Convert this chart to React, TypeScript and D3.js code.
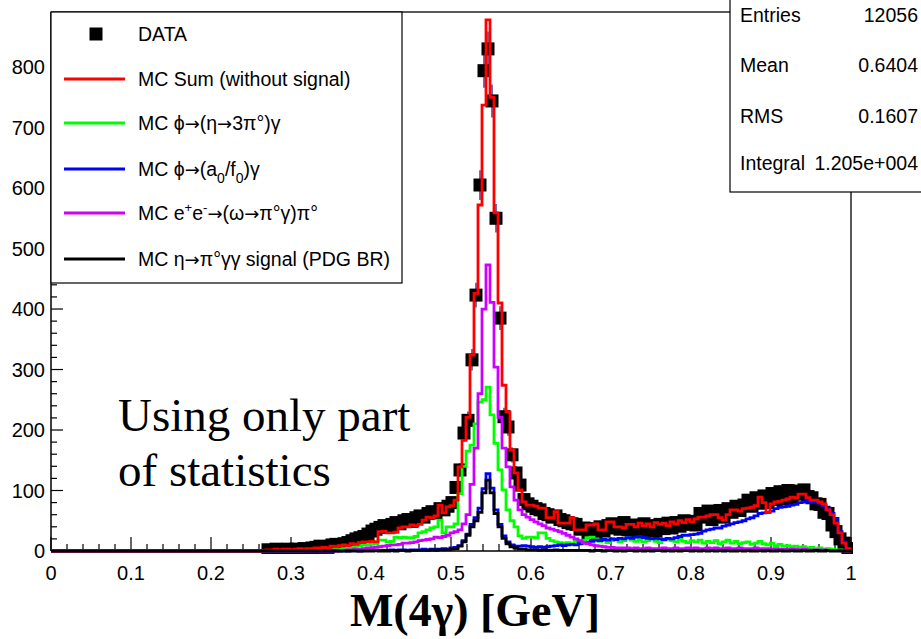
import React from 'react';
import * as d3 from 'd3';

// Histogram binning (GeV)
const BIN_START = 0.26875;
const BIN_WIDTH = 0.005;

// DATA counts per bin
const dataCounts = [
  2, 1, 3, 2, 2, 3, 1, 3, 2, 4,
  3, 5, 6, 8, 7, 6, 10, 11, 9, 12,
  14, 17, 20, 22, 24, 28, 33, 36, 39, 42,
  40, 44, 47, 45, 50, 52, 49, 55, 58, 56,
  62, 65, 63, 70, 68, 74, 80, 105, 134, 195,
  216, 316, 423, 605, 794, 830, 744, 550, 385, 222,
  205, 159, 129, 109, 85, 78, 74, 70, 68, 62,
  60, 56, 58, 52, 50, 47, 45, 44, 36, 38,
  30, 37, 29, 40, 33, 42, 45, 38, 36, 47,
  35, 43, 33, 40, 45, 34, 42, 33, 44, 37,
  46, 38, 47, 41, 50, 44, 49, 43, 62, 56,
  66, 52, 60, 67, 56, 70, 64, 74, 67, 76,
  84, 74, 88, 79, 91, 80, 95, 85, 98, 86,
  100, 88, 99, 94, 101, 90, 88, 78, 77, 64,
  62, 43, 32, 20, 13, 4,
];

// MC Sum (without signal)
const mcSum = [
  2, 2, 3, 2, 3, 3, 2, 3, 4, 3,
  4, 4, 5, 5, 6, 5, 8, 7, 9, 10,
  9, 12, 11, 14, 15, 15, 16, 15, 32, 33,
  30, 30, 31, 38, 40, 40, 43, 42, 44, 51,
  56, 55, 58, 76, 63, 73, 75, 84, 139, 183,
  221, 324, 426, 572, 737, 878, 750, 559, 410, 274,
  230, 167, 129, 101, 81, 76, 76, 74, 71, 71,
  55, 55, 65, 46, 46, 46, 55, 35, 35, 35,
  43, 43, 45, 35, 35, 48, 48, 40, 40, 38,
  44, 44, 40, 46, 42, 45, 40, 47, 44, 46,
  42, 48, 45, 50, 47, 52, 48, 53, 56, 56,
  58, 60, 60, 55, 51, 60, 68, 68, 66, 70,
  71, 72, 75, 89, 80, 64, 78, 81, 82, 84,
  86, 89, 88, 94, 94, 88, 84, 84, 81, 78,
  68, 60, 46, 30, 13, 4,
];

// MC phi -> (eta -> 3pi0) gamma
const mcEta3pi = [
  0, 0, 0, 0, 0, 0, 0, 0, 0, 1,
  1, 1, 1, 2, 2, 3, 2, 3, 3, 4,
  5, 6, 8, 9, 10, 10, 11, 12, 18, 18,
  15, 16, 23, 22, 23, 22, 22, 24, 30, 32,
  35, 38, 40, 51, 30, 40, 40, 45, 95, 140,
  165, 175, 210, 246, 250, 271, 225, 178, 134, 101,
  68, 50, 40, 25, 21, 23, 23, 22, 30, 30,
  21, 17, 15, 14, 13, 14, 12, 16, 15, 18,
  22, 23, 20, 16, 18, 14, 17, 20, 15, 17,
  22, 18, 16, 19, 15, 17, 21, 16, 14, 18,
  20, 17, 15, 19, 16, 14, 17, 15, 18, 13,
  16, 14, 17, 12, 15, 18, 13, 16, 12, 14,
  15, 11, 13, 16, 12, 10, 13, 9, 11, 8,
  9, 7, 8, 6, 7, 5, 6, 4, 5, 3,
  4, 3, 2, 2, 1, 0,
];

// MC phi -> (a0/f0) gamma
const mcA0f0 = [
  0, 0, 0, 0, 0, 0, 0, 0, 0, 0,
  0, 0, 0, 0, 1, 0, 0, 1, 0, 1,
  0, 1, 1, 0, 1, 1, 1, 1, 1, 1,
  1, 2, 1, 2, 2, 1, 2, 2, 2, 3,
  2, 3, 3, 3, 4, 3, 5, 6, 9, 17,
  28, 44, 55, 71, 103, 128, 104, 68, 44, 25,
  15, 10, 8, 8, 9, 8, 7, 6, 7, 6,
  7, 8, 9, 10, 9, 10, 11, 10, 12, 13,
  14, 16, 18, 17, 19, 18, 20, 19, 21, 20,
  22, 21, 23, 24, 22, 21, 20, 21, 20, 19,
  21, 20, 22, 24, 26, 26, 27, 28, 29, 33,
  35, 36, 38, 38, 41, 43, 45, 47, 48, 50,
  53, 55, 58, 62, 63, 64, 66, 70, 72, 73,
  74, 76, 77, 80, 81, 82, 80, 81, 79, 75,
  71, 62, 54, 32, 15, 4,
];

// MC e+e- -> (omega -> pi0 gamma) pi0
const mcOmegaPi = [
  0, 0, 0, 0, 0, 0, 0, 0, 0, 0,
  0, 0, 0, 0, 0, 0, 0, 0, 1, 1,
  2, 2, 3, 3, 4, 5, 5, 6, 7, 8,
  9, 10, 10, 11, 13, 13, 14, 15, 17, 18,
  19, 20, 23, 22, 24, 26, 30, 32, 35, 45,
  60, 110, 170, 260, 400, 473, 411, 304, 221, 170,
  139, 106, 84, 68, 60, 56, 52, 48, 45, 42,
  38, 36, 34, 32, 29, 26, 23, 20, 17, 14,
  12, 10, 9, 8, 7, 6, 6, 5, 5, 5,
  5, 4, 5, 4, 4, 5, 4, 4, 4, 5,
  4, 4, 5, 4, 4, 5, 4, 5, 4, 4,
  5, 4, 5, 4, 4, 5, 4, 4, 5, 4,
  4, 4, 5, 4, 4, 4, 3, 4, 3, 3,
  3, 3, 3, 2, 3, 2, 2, 2, 2, 2,
  1, 1, 1, 1, 0, 0,
];

// MC eta -> pi0 gamma gamma signal (PDG BR)
const mcSignal = [
  0, 0, 0, 0, 0, 0, 0, 0, 0, 0,
  0, 0, 0, 0, 0, 0, 0, 0, 0, 0,
  0, 0, 0, 0, 0, 0, 0, 1, 0, 0,
  0, 1, 0, 1, 1, 0, 1, 1, 1, 1,
  1, 2, 1, 2, 2, 2, 3, 4, 8, 15,
  26, 40, 50, 64, 96, 117, 96, 62, 40, 21,
  12, 7, 5, 3, 3, 2, 2, 2, 1, 2,
  1, 1, 2, 1, 1, 1, 1, 1, 1, 1,
  1, 0, 1, 1, 0, 1, 1, 0, 1, 0,
  1, 1, 0, 1, 0, 1, 0, 1, 1, 0,
  1, 0, 1, 0, 1, 1, 0, 1, 0, 1,
  0, 1, 0, 1, 0, 1, 0, 0, 1, 0,
  1, 0, 0, 1, 0, 1, 0, 0, 1, 0,
  0, 1, 0, 0, 1, 0, 0, 1, 0, 0,
  1, 0, 0, 0, 0, 0,
];

const xTicks = [0, 0.1, 0.2, 0.3, 0.4, 0.5, 0.6, 0.7, 0.8, 0.9, 1];
const xTickLabels = ['0', '0.1', '0.2', '0.3', '0.4', '0.5', '0.6', '0.7', '0.8', '0.9', '1'];
const yTicks = [0, 100, 200, 300, 400, 500, 600, 700, 800];
const yTickLabels = ['0', '100', '200', '300', '400', '500', '600', '700', '800'];

const statsLabels = ['Entries', 'Mean', 'RMS', 'Integral'];
const statsValues = ['12056', '0.6404', '0.1607', '1.205e+004'];

const seriesColors = {
  sum: '#ff0000',
  eta3pi: '#00ff00',
  a0f0: '#0000ff',
  omega: '#cc00ff',
  signal: '#000000',
};

const W = 921;
const H = 639;
const SANS = '"Liberation Sans", Arial, Helvetica, sans-serif';
const SERIF = '"Liberation Serif", "Times New Roman", serif';
const ARROW_FONT = '"DejaVu Sans", sans-serif';

const x = d3.scaleLinear().domain([0, 1]).range([51, 851]);
const y = d3.scaleLinear().domain([0, 891]).range([551, 12]);

function histPath(values: number[]): string {
  const pts: [number, number][] = [[0, 0]];
  values.forEach((v, i) => pts.push([BIN_START + i * BIN_WIDTH, v]));
  pts.push([BIN_START + values.length * BIN_WIDTH, 0]);
  pts.push([1, 0]);
  const line = d3
    .line<[number, number]>()
    .x((d) => x(d[0]))
    .y((d) => y(d[1]))
    .curve(d3.curveStepAfter);
  return line(pts) || '';
}

// render a string with long arrows in a font that has a proper arrow glyph
function withArrows(s: string, keyBase: string) {
  const parts = s.split('→');
  const out: React.ReactNode[] = [];
  parts.forEach((p, i) => {
    if (i > 0)
      out.push(
        <tspan key={keyBase + 'a' + i} fontFamily={ARROW_FONT} fontSize={18}>
          →
        </tspan>
      );
    if (p) out.push(<tspan key={keyBase + 'p' + i}>{p}</tspan>);
  });
  return out;
}

export default function App() {
  const centers = dataCounts.map((_, i) => BIN_START + (i + 0.5) * BIN_WIDTH);
  const minorY = d3.range(0, 880, 20).filter((v) => v % 100 !== 0);
  const minorX = d3.range(0, 1.0001, 0.02).filter((v) => Math.abs(v * 10 - Math.round(v * 10)) > 1e-6);
  const mSize = 13;

  const legendY = [34, 79, 123, 169, 213, 259];
  const lw = 2.8;
  const statsY = [22, 72, 123, 170];

  return (
    <svg
      width={W}
      height={H}
      style={{ position: 'absolute', left: 0, top: 0, background: '#fff', display: 'block' }}
    >
      <rect x={0} y={0} width={W} height={H} fill="#fff" />
      <defs>
        <clipPath id="plotClip">
          <rect x={x(0)} y={8} width={x(1) - x(0) + 2} height={y(0) - 8 + 3} />
        </clipPath>
      </defs>

      {/* frame */}
      <line x1={x(0)} x2={x(1)} y1={12} y2={12} stroke="#222" strokeWidth={1.5} />
      <line x1={x(1)} x2={x(1)} y1={12} y2={y(0)} stroke="#222" strokeWidth={1.5} />
      <line x1={x(0)} x2={x(0)} y1={12} y2={y(0)} stroke="#000" strokeWidth={1.5} />
      <line x1={x(0)} x2={x(1)} y1={y(0)} y2={y(0)} stroke="#000" strokeWidth={1.5} />

      {/* y ticks */}
      {yTicks.map((t) => (
        <line key={'yt' + t} x1={x(0)} x2={x(0) + 12} y1={y(t)} y2={y(t)} stroke="#000" strokeWidth={1.2} />
      ))}
      {minorY.map((t) => (
        <line key={'ym' + t} x1={x(0)} x2={x(0) + 6} y1={y(t)} y2={y(t)} stroke="#000" strokeWidth={1.2} />
      ))}
      {/* x ticks */}
      {xTicks.map((t) => (
        <line key={'xt' + t} x1={x(t)} x2={x(t)} y1={y(0)} y2={y(0) - 14} stroke="#000" strokeWidth={1.2} />
      ))}
      {minorX.map((t) => (
        <line key={'xm' + t} x1={x(t)} x2={x(t)} y1={y(0)} y2={y(0) - 7} stroke="#000" strokeWidth={1.2} />
      ))}

      {/* tick labels */}
      {yTicks.map((t, i) => (
        <text key={'yl' + t} x={45} y={y(t) + 7} textAnchor="end" fontFamily={SANS} fontSize={20} fill="#000">
          {yTickLabels[i]}
        </text>
      ))}
      {xTicks.map((t, i) => (
        <text key={'xl' + t} x={x(t)} y={580} textAnchor="middle" fontFamily={SANS} fontSize={20} fill="#000">
          {xTickLabels[i]}
        </text>
      ))}

      <g clipPath="url(#plotClip)">
        {/* data error bars */}
        {dataCounts.map((n, i) => (
          <line
            key={'eb' + i}
            x1={x(centers[i])}
            x2={x(centers[i])}
            y1={y(n + Math.sqrt(n))}
            y2={y(Math.max(0, n - Math.sqrt(n)))}
            stroke="#10107a"
            strokeWidth={1.2}
          />
        ))}
        {/* data markers */}
        {dataCounts.map((n, i) => (
          <rect
            key={'dm' + i}
            x={x(centers[i]) - mSize / 2}
            y={y(n) - mSize / 2}
            width={mSize}
            height={mSize}
            fill="#000"
          />
        ))}
        <path d={histPath(mcEta3pi)} fill="none" stroke={seriesColors.eta3pi} strokeWidth={lw} />
        <path d={histPath(mcA0f0)} fill="none" stroke={seriesColors.a0f0} strokeWidth={lw} />
        <path d={histPath(mcOmegaPi)} fill="none" stroke={seriesColors.omega} strokeWidth={lw} />
        <path d={histPath(mcSum)} fill="none" stroke={seriesColors.sum} strokeWidth={lw} />
        <path d={histPath(mcSignal)} fill="none" stroke={seriesColors.signal} strokeWidth={lw} />
      </g>

      {/* legend */}
      <rect x={51} y={12} width={351} height={271} fill="#fff" stroke="#000" strokeWidth={1.2} />
      <rect x={96 - 6.5} y={legendY[0] - 6.5} width={13} height={13} fill="#000" />
      <text x={138} y={legendY[0] + 7} fontFamily={SANS} fontSize={19.5}>DATA</text>

      <line x1={64} x2={125} y1={legendY[1]} y2={legendY[1]} stroke={seriesColors.sum} strokeWidth={lw} />
      <text x={138} y={legendY[1] + 7} fontFamily={SANS} fontSize={19.5}>MC Sum (without signal)</text>

      <line x1={64} x2={125} y1={legendY[2]} y2={legendY[2]} stroke={seriesColors.eta3pi} strokeWidth={lw} />
      <text x={138} y={legendY[2] + 7} fontFamily={SANS} fontSize={19.5}>
        {withArrows('MC ϕ→(η→3π°)γ', 'g')}
      </text>

      <line x1={64} x2={125} y1={legendY[3]} y2={legendY[3]} stroke={seriesColors.a0f0} strokeWidth={lw} />
      <text x={138} y={legendY[3] + 7} fontFamily={SANS} fontSize={19.5}>
        {withArrows('MC ϕ→(a', 'b')}
        <tspan fontSize={14} dy={7}>0</tspan>
        <tspan dy={-7}>/f</tspan>
        <tspan fontSize={14} dy={7}>0</tspan>
        <tspan dy={-7}>)γ</tspan>
      </text>

      <line x1={64} x2={125} y1={legendY[4]} y2={legendY[4]} stroke={seriesColors.omega} strokeWidth={lw} />
      <text x={138} y={legendY[4] + 7} fontFamily={SANS} fontSize={19.5}>
        MC e
        <tspan fontSize={13} dy={-8}>+</tspan>
        <tspan dy={8}>e</tspan>
        <tspan fontSize={13} dy={-8}>-</tspan>
        <tspan dy={8}>{withArrows('→(ω→π°γ)π°', 'p')}</tspan>
      </text>

      <line x1={64} x2={125} y1={legendY[5]} y2={legendY[5]} stroke={seriesColors.signal} strokeWidth={lw} />
      <text x={138} y={legendY[5] + 7} fontFamily={SANS} fontSize={19.5}>
        {withArrows('MC η→π°γγ signal (PDG BR)', 's')}
      </text>

      {/* stats box */}
      <rect x={730} y={-5} width={200} height={197} fill="#fff" stroke="#000" strokeWidth={1.2} />
      {statsLabels.map((s, i) => (
        <g key={'st' + i}>
          <text x={740} y={statsY[i]} fontFamily={SANS} fontSize={19.5}>{s}</text>
          <text x={918} y={statsY[i]} textAnchor="end" fontFamily={SANS} fontSize={19.5}>
            {statsValues[i]}
          </text>
        </g>
      ))}

      {/* annotation */}
      <text x={118} y={431} fontFamily={SERIF} fontSize={47} fill="#000">Using only part</text>
      <text x={118} y={486} fontFamily={SERIF} fontSize={47} fill="#000">of statistics</text>

      {/* axis title */}
      <text x={475} y={626} textAnchor="middle" fontFamily={SERIF} fontWeight="bold" fontSize={46} fill="#000">
        M(4γ) [GeV]
      </text>
    </svg>
  );
}
